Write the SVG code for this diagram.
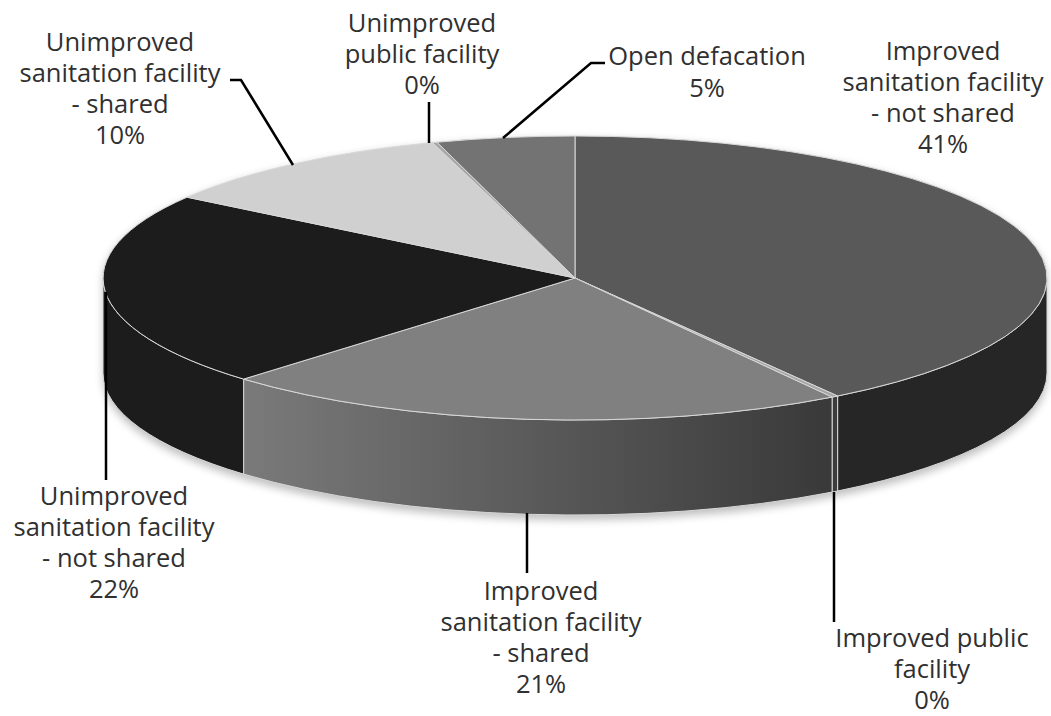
<svg xmlns="http://www.w3.org/2000/svg" width="1051" height="716" viewBox="0 0 1051 716">
<style>
.lbl{font-family:"Open Sans","Liberation Sans",sans-serif;font-size:25.5px;fill:#303030;text-anchor:middle}
.edge{stroke:#d8d8d8;stroke-width:1;stroke-linejoin:round}
.lead{fill:none;stroke:#000;stroke-width:2.5}
</style>
<defs>
<linearGradient id="g3" gradientUnits="userSpaceOnUse" x1="243.6" y1="0" x2="832.1" y2="0">
<stop offset="0" stop-color="#7a7a7a"/>
<stop offset="1" stop-color="#393939"/>
</linearGradient>
<filter id="sh" x="-10%" y="-10%" width="120%" height="130%"><feGaussianBlur stdDeviation="4"/></filter>
</defs>
<rect width="1051" height="716" fill="#fff"/>
<path d="M103,278 A472,142 0 0 1 1047,278 L1047,375 A472,142 0 0 1 103,375 Z" fill="#000" opacity="0.25" filter="url(#sh)" transform="translate(0,3)"/>
<g id="slice-improved-not-shared">
<path class="edge" d="M1047,278 A472,142 0 0 1 837.6,396 L837.6,491 A472,142 0 0 0 1047,373 Z" fill="#262626"/>
<path class="edge" d="M575,278 L575,136 A472,142 0 0 1 837.6,396 Z" fill="#595959"/>
<text class="lbl" x="943" y="60">Improved</text>
<text class="lbl" x="943" y="91">sanitation facility</text>
<text class="lbl" x="943" y="122">- not shared</text>
<text class="lbl" x="943" y="153">41%</text>
</g>
<g id="slice-improved-public">
<path class="edge" d="M837.6,396 A472,142 0 0 1 832.1,397.1 L832.1,492.1 A472,142 0 0 0 837.6,491 Z" fill="#3c3c3c"/>
<path class="edge" d="M575,278 L837.6,396 A472,142 0 0 1 832.1,397.1 Z" fill="#a6a6a6"/>
<text class="lbl" x="932" y="647">Improved public</text>
<text class="lbl" x="932" y="678">facility</text>
<text class="lbl" x="932" y="709">0%</text>
</g>
<g id="slice-improved-shared">
<path class="edge" d="M832.1,397.1 A472,142 0 0 1 243.6,379.1 L243.6,474.1 A472,142 0 0 0 832.1,492.1 Z" fill="url(#g3)"/>
<path class="edge" d="M575,278 L832.1,397.1 A472,142 0 0 1 243.6,379.1 Z" fill="#808080"/>
<text class="lbl" x="541" y="600">Improved</text>
<text class="lbl" x="541" y="631">sanitation facility</text>
<text class="lbl" x="541" y="662">- shared</text>
<text class="lbl" x="541" y="693">21%</text>
</g>
<g id="slice-unimproved-not-shared">
<path class="edge" d="M243.6,379.1 A472,142 0 0 1 103,278 L103,373 A472,142 0 0 0 243.6,474.1 Z" fill="#1c1c1c"/>
<path class="edge" d="M575,278 L243.6,379.1 A472,142 0 0 1 187,197.2 Z" fill="#1c1c1c"/>
<text class="lbl" x="114" y="505">Unimproved</text>
<text class="lbl" x="114" y="536">sanitation facility</text>
<text class="lbl" x="114" y="567">- not shared</text>
<text class="lbl" x="114" y="598">22%</text>
</g>
<g id="slice-unimproved-shared">
<path class="edge" d="M575,278 L187,197.2 A472,142 0 0 1 432.3,142.6 Z" fill="#d0d0d0"/>
<text class="lbl" x="120" y="51">Unimproved</text>
<text class="lbl" x="120" y="82">sanitation facility</text>
<text class="lbl" x="120" y="113">- shared</text>
<text class="lbl" x="120" y="144">10%</text>
</g>
<g id="slice-unimproved-public">
<path class="edge" d="M575,278 L432.3,142.6 A472,142 0 0 1 437,142.2 Z" fill="#a8a8a8"/>
<text class="lbl" x="422" y="32">Unimproved</text>
<text class="lbl" x="422" y="63">public facility</text>
<text class="lbl" x="422" y="94">0%</text>
</g>
<g id="slice-open-defecation">
<path class="edge" d="M575,278 L437,142.2 A472,142 0 0 1 575,136 Z" fill="#737373"/>
<text class="lbl" x="707" y="65">Open defacation</text>
<text class="lbl" x="707" y="97">5%</text>
</g>
<g id="connectors">
<polyline class="lead" points="230,80 241,80 293,165"/>
<polyline class="lead" points="429,102 429,143"/>
<polyline class="lead" points="605,63 591,63 503,138"/>
<polyline class="lead" points="834,492 834,622"/>
<polyline class="lead" points="527,513 527,573"/>
<polyline class="lead" points="106,292 106,480"/>
</g>
</svg>
